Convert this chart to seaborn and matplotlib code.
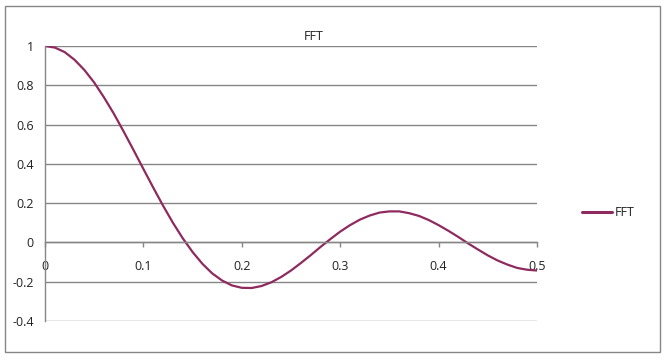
import matplotlib
matplotlib.use("Agg")
import matplotlib.pyplot as plt
import seaborn as sns
import pandas as pd
from matplotlib.patches import Rectangle

# Data
freq = [0.00, 0.01, 0.02, 0.03, 0.04, 0.05, 0.06, 0.07, 0.08, 0.09,
        0.10, 0.11, 0.12, 0.13, 0.14, 0.15, 0.16, 0.17, 0.18, 0.19,
        0.20, 0.21, 0.22, 0.23, 0.24, 0.25, 0.26, 0.27, 0.28, 0.29,
        0.30, 0.31, 0.32, 0.33, 0.34, 0.35, 0.36, 0.37, 0.38, 0.39,
        0.40, 0.41, 0.42, 0.43, 0.44, 0.45, 0.46, 0.47, 0.48, 0.49, 0.50]
fft_vals = [1.000, 0.992, 0.969, 0.930, 0.878, 0.814, 0.738, 0.655, 0.564, 0.470,
            0.374, 0.279, 0.187, 0.100, 0.021, -0.049, -0.109, -0.158, -0.194, -0.219,
            -0.231, -0.232, -0.222, -0.203, -0.176, -0.143, -0.105, -0.065, -0.023, 0.017,
            0.055, 0.088, 0.116, 0.137, 0.152, 0.158, 0.158, 0.149, 0.135, 0.114,
            0.088, 0.059, 0.028, -0.005, -0.036, -0.066, -0.092, -0.113, -0.130, -0.139,
            -0.143]
x_ticks = [0, 0.1, 0.2, 0.3, 0.4, 0.5]
x_ticklabels = ["0", "0.1", "0.2", "0.3", "0.4", "0.5"]
y_ticks = [-0.4, -0.2, 0, 0.2, 0.4, 0.6, 0.8, 1]
y_ticklabels = ["-0.4", "-0.2", "0", "0.2", "0.4", "0.6", "0.8", "1"]
series_name = "FFT"
title = "FFT"

sns.set_theme(style="white")
plt.rcParams["font.family"] = ["Open Sans", "DejaVu Sans"]

W, H = 666, 358
fig = plt.figure(figsize=(W / 100, H / 100), dpi=100)
ax = fig.add_axes([45 / W, 1 - 321 / H, (537 - 45) / W, (321 - 46) / H])

line_color = "#8E2A5E"
grid_color = "#868686"

df = pd.DataFrame({"x": freq, "y": fft_vals})
sns.lineplot(data=df, x="x", y="y", ax=ax, color=line_color, linewidth=1.6,
             label=series_name, legend=False)

ax.set_xlim(0, 0.5)
ax.set_ylim(-0.4, 1)
ax.set_xticks(x_ticks)
ax.set_xticklabels(x_ticklabels)
ax.set_yticks(y_ticks)
ax.set_yticklabels(y_ticklabels)
ax.set_xlabel("")
ax.set_ylabel("")

for yv in y_ticks:
    ax.axhline(yv, color=grid_color, linewidth=1.0, zorder=0)

for s in ["top", "right"]:
    ax.spines[s].set_visible(False)
ax.spines["left"].set_color(grid_color)
ax.spines["left"].set_linewidth(1.0)
ax.spines["bottom"].set_position(("data", 0))
ax.spines["bottom"].set_color(grid_color)
ax.spines["bottom"].set_linewidth(1.0)

ax.tick_params(axis="x", direction="out", length=3.5, width=1.0, color=grid_color,
               pad=9, labelsize=9, labelcolor="#222222", bottom=True)
ax.tick_params(axis="y", length=0, pad=8, labelsize=9, labelcolor="#222222", left=True)

fig.text(314 / W, 1 - 37 / H, title, ha="center", va="center", fontsize=9, color="#222222")

handles, labels = ax.get_legend_handles_labels()
leg = fig.legend(handles, labels, loc="center left",
                 bbox_to_anchor=(582 / W, 1 - 213 / H), bbox_transform=fig.transFigure,
                 frameon=False, borderpad=0, borderaxespad=0, handlelength=2.4,
                 handletextpad=0.25, fontsize=9)
for t in leg.get_texts():
    t.set_color("#222222")
for lh in leg.get_lines():
    lh.set_linewidth(2.2)

fig.patches.append(Rectangle((5 / W, 1 - 352 / H), 655 / W, 346 / H,
                             transform=fig.transFigure, fill=False,
                             edgecolor=grid_color, linewidth=1.0))

fig.savefig("out.png", dpi=100)
